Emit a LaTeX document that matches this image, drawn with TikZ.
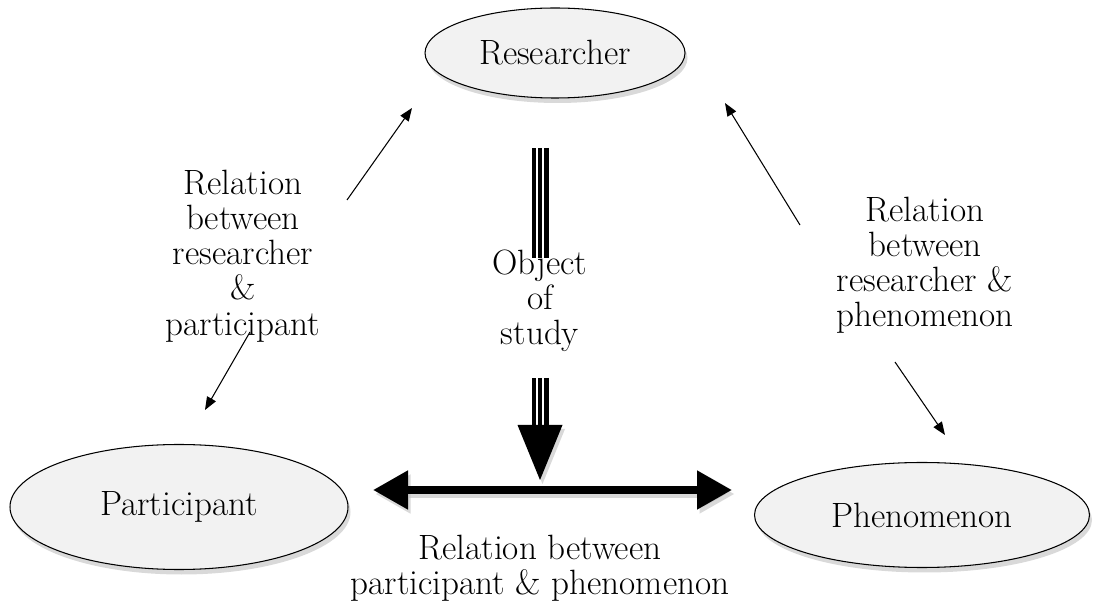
\documentclass[tikz,border=0pt]{standalone}
\usepackage{tikz}
\definecolor{ovalfill}{RGB}{242, 242, 242}
\usetikzlibrary{shapes.geometric, arrows.meta, positioning, calc, shadows}

\begin{document}
\begin{tikzpicture}[
    oval/.style={draw=black, ellipse, fill=ovalfill, inner sep=0pt, line width=0.6pt,
                 font=\fontsize{20}{20}\selectfont,
                 drop shadow={opacity=0.3, shadow xshift=0.05cm, shadow yshift=-0.1cm}},
    lbl/.style={align=center, font=\fontsize{20}{20}\selectfont},
    link/.style={-{Triangle[length=0.26cm, width=0.2cm]}, line width=0.6pt},
    triple/.style={double=white, double distance=0.15cm, line width=0.095cm,
                   postaction={draw=black, line width=0.07cm}},
    bigarrow/.style={{Triangle[length=0.7cm, width=0.74cm]}-{Triangle[length=0.7cm, width=0.74cm]},
                     line width=0.16cm}
]
    \useasboundingbox (0,0) rectangle (21.96,12.12);

    \node[oval, minimum width=5.2cm, minimum height=1.8cm] (res) at (11.10,11.06) {Researcher};
    \node[oval, minimum width=6.76cm, minimum height=2.5cm] (par) at (3.58,1.98) {Participant};
    \node[oval, minimum width=6.7cm, minimum height=2.1cm] (phe) at (18.44,1.82) {Phenomenon};

    \node[lbl] (rp) at (4.86,7.0) {Relation\\between\\researcher\\\&\\participant};
    \node[lbl] (obj) at (10.8,6.1) {Object\\of\\study};
    \node[lbl] (rf) at (18.5,6.82) {Relation\\between\\researcher \&\\phenomenon};
    \node[lbl] (pf) at (10.8,0.76) {Relation between\\participant \& phenomenon};

    % ends of the thin arrows
    \coordinate (rp1) at (6.94,8.12);
    \coordinate (rp2) at (8.24,9.96);
    \coordinate (rp3) at (5.0,5.48);
    \coordinate (rp4) at (4.1,3.92);
    \coordinate (rf1) at (16.0,7.62);
    \coordinate (rf2) at (14.5,10.06);
    \coordinate (rf3) at (17.9,4.88);
    \coordinate (rf4) at (18.9,3.42);

    \draw[link] (rp1) -- (rp2);
    \draw[link] (rp3) -- (rp4);
    \draw[link] (rf1) -- (rf2);
    \draw[link] (rf3) -- (rf4);

    % object of study arrow
    \coordinate (top) at (10.8,9.16);
    \coordinate (mid) at (10.8,4.56);
    \coordinate (tri) at (10.8,3.62);
    \coordinate (tip) at (10.8,2.52);
    \draw[triple] (top) -- (10.8,6.96);
    \draw[triple] (mid) -- (tri);
    \fill[drop shadow={opacity=0.3, shadow xshift=0.05cm, shadow yshift=-0.08cm}]
        ($(tri)+(-0.45,0)$) -- ($(tri)+(0.45,0)$) -- (tip) -- cycle;

    % participant <-> phenomenon
    \coordinate (hl) at (7.46,2.32);
    \coordinate (hr) at (14.64,2.32);
    \draw[bigarrow, black!25, opacity=0.6, transform canvas={shift={(0.05,-0.08)}}] (hl) -- (hr);
    \draw[bigarrow] (hl) -- (hr);
\end{tikzpicture}
\end{document}
